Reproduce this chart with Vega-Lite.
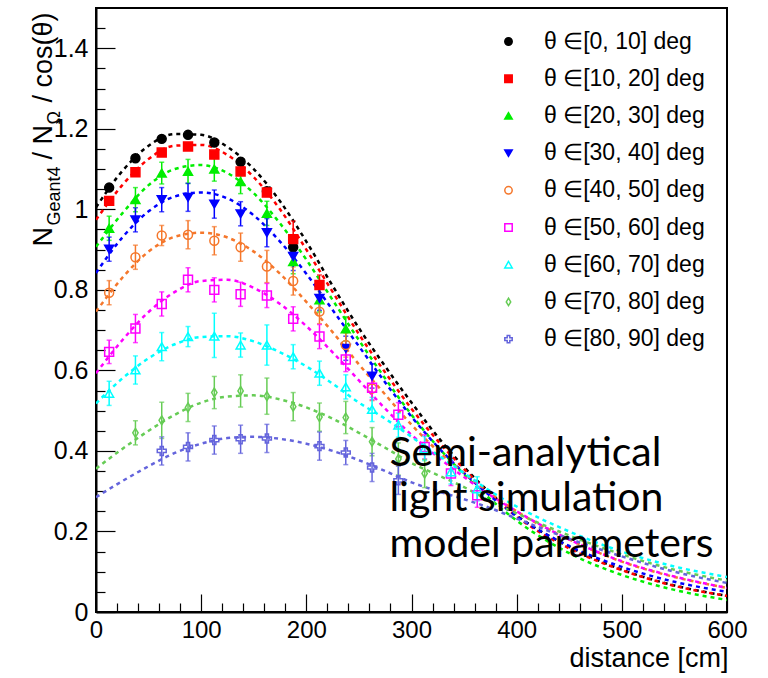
{
  "$schema": "https://vega.github.io/schema/vega-lite/v6.json",
  "width": 631,
  "height": 604,
  "autosize": "none",
  "padding": {"left": 96, "top": 8, "right": 41, "bottom": 66},
  "background": "white",
  "config": {
    "view": {"stroke": "black", "strokeWidth": 2},
    "axis": {"grid": false, "domainColor": "black", "domainWidth": 2, "tickColor": "black", "tickWidth": 1.2, "labelColor": "black", "titleColor": "black", "labelFont": "Liberation Sans", "titleFont": "Liberation Sans", "titleFontWeight": "normal", "labelFlush": false, "labelOverlap": false}
  },
  "datasets": {
    "fit": [
      {"s":"θ ∈[0, 10] deg","x":0,"y":1.005},{"s":"θ ∈[0, 10] deg","x":25,"y":1.095},{"s":"θ ∈[0, 10] deg","x":50,"y":1.158},{"s":"θ ∈[0, 10] deg","x":75,"y":1.187},{"s":"θ ∈[0, 10] deg","x":100,"y":1.185},{"s":"θ ∈[0, 10] deg","x":125,"y":1.155},{"s":"θ ∈[0, 10] deg","x":150,"y":1.1},{"s":"θ ∈[0, 10] deg","x":175,"y":1.02},{"s":"θ ∈[0, 10] deg","x":200,"y":0.92},{"s":"θ ∈[0, 10] deg","x":225,"y":0.81},{"s":"θ ∈[0, 10] deg","x":250,"y":0.705},{"s":"θ ∈[0, 10] deg","x":275,"y":0.61},{"s":"θ ∈[0, 10] deg","x":300,"y":0.52},{"s":"θ ∈[0, 10] deg","x":325,"y":0.435},{"s":"θ ∈[0, 10] deg","x":350,"y":0.36},{"s":"θ ∈[0, 10] deg","x":375,"y":0.295},{"s":"θ ∈[0, 10] deg","x":400,"y":0.24},{"s":"θ ∈[0, 10] deg","x":450,"y":0.162},{"s":"θ ∈[0, 10] deg","x":500,"y":0.105},{"s":"θ ∈[0, 10] deg","x":550,"y":0.066},{"s":"θ ∈[0, 10] deg","x":600,"y":0.04},
      {"s":"θ ∈[10, 20] deg","x":0,"y":0.974},{"s":"θ ∈[10, 20] deg","x":25,"y":1.06},{"s":"θ ∈[10, 20] deg","x":50,"y":1.125},{"s":"θ ∈[10, 20] deg","x":75,"y":1.158},{"s":"θ ∈[10, 20] deg","x":100,"y":1.16},{"s":"θ ∈[10, 20] deg","x":125,"y":1.135},{"s":"θ ∈[10, 20] deg","x":150,"y":1.08},{"s":"θ ∈[10, 20] deg","x":175,"y":1.0},{"s":"θ ∈[10, 20] deg","x":200,"y":0.9},{"s":"θ ∈[10, 20] deg","x":225,"y":0.795},{"s":"θ ∈[10, 20] deg","x":250,"y":0.69},{"s":"θ ∈[10, 20] deg","x":275,"y":0.595},{"s":"θ ∈[10, 20] deg","x":300,"y":0.505},{"s":"θ ∈[10, 20] deg","x":325,"y":0.425},{"s":"θ ∈[10, 20] deg","x":350,"y":0.355},{"s":"θ ∈[10, 20] deg","x":375,"y":0.292},{"s":"θ ∈[10, 20] deg","x":400,"y":0.237},{"s":"θ ∈[10, 20] deg","x":450,"y":0.158},{"s":"θ ∈[10, 20] deg","x":500,"y":0.104},{"s":"θ ∈[10, 20] deg","x":550,"y":0.065},{"s":"θ ∈[10, 20] deg","x":600,"y":0.04},
      {"s":"θ ∈[20, 30] deg","x":0,"y":0.907},{"s":"θ ∈[20, 30] deg","x":25,"y":0.99},{"s":"θ ∈[20, 30] deg","x":50,"y":1.06},{"s":"θ ∈[20, 30] deg","x":75,"y":1.1},{"s":"θ ∈[20, 30] deg","x":100,"y":1.11},{"s":"θ ∈[20, 30] deg","x":125,"y":1.09},{"s":"θ ∈[20, 30] deg","x":150,"y":1.04},{"s":"θ ∈[20, 30] deg","x":175,"y":0.965},{"s":"θ ∈[20, 30] deg","x":200,"y":0.875},{"s":"θ ∈[20, 30] deg","x":225,"y":0.775},{"s":"θ ∈[20, 30] deg","x":250,"y":0.675},{"s":"θ ∈[20, 30] deg","x":275,"y":0.58},{"s":"θ ∈[20, 30] deg","x":300,"y":0.49},{"s":"θ ∈[20, 30] deg","x":325,"y":0.41},{"s":"θ ∈[20, 30] deg","x":350,"y":0.342},{"s":"θ ∈[20, 30] deg","x":375,"y":0.28},{"s":"θ ∈[20, 30] deg","x":400,"y":0.227},{"s":"θ ∈[20, 30] deg","x":450,"y":0.146},{"s":"θ ∈[20, 30] deg","x":500,"y":0.092},{"s":"θ ∈[20, 30] deg","x":550,"y":0.055},{"s":"θ ∈[20, 30] deg","x":600,"y":0.03},
      {"s":"θ ∈[30, 40] deg","x":0,"y":0.842},{"s":"θ ∈[30, 40] deg","x":25,"y":0.93},{"s":"θ ∈[30, 40] deg","x":50,"y":0.995},{"s":"θ ∈[30, 40] deg","x":75,"y":1.032},{"s":"θ ∈[30, 40] deg","x":100,"y":1.042},{"s":"θ ∈[30, 40] deg","x":125,"y":1.027},{"s":"θ ∈[30, 40] deg","x":150,"y":0.985},{"s":"θ ∈[30, 40] deg","x":175,"y":0.92},{"s":"θ ∈[30, 40] deg","x":200,"y":0.84},{"s":"θ ∈[30, 40] deg","x":225,"y":0.75},{"s":"θ ∈[30, 40] deg","x":250,"y":0.66},{"s":"θ ∈[30, 40] deg","x":275,"y":0.57},{"s":"θ ∈[30, 40] deg","x":300,"y":0.485},{"s":"θ ∈[30, 40] deg","x":325,"y":0.41},{"s":"θ ∈[30, 40] deg","x":350,"y":0.345},{"s":"θ ∈[30, 40] deg","x":375,"y":0.288},{"s":"θ ∈[30, 40] deg","x":400,"y":0.238},{"s":"θ ∈[30, 40] deg","x":450,"y":0.164},{"s":"θ ∈[30, 40] deg","x":500,"y":0.112},{"s":"θ ∈[30, 40] deg","x":550,"y":0.075},{"s":"θ ∈[30, 40] deg","x":600,"y":0.05},
      {"s":"θ ∈[40, 50] deg","x":0,"y":0.746},{"s":"θ ∈[40, 50] deg","x":25,"y":0.83},{"s":"θ ∈[40, 50] deg","x":50,"y":0.895},{"s":"θ ∈[40, 50] deg","x":75,"y":0.932},{"s":"θ ∈[40, 50] deg","x":100,"y":0.942},{"s":"θ ∈[40, 50] deg","x":125,"y":0.93},{"s":"θ ∈[40, 50] deg","x":150,"y":0.895},{"s":"θ ∈[40, 50] deg","x":175,"y":0.84},{"s":"θ ∈[40, 50] deg","x":200,"y":0.77},{"s":"θ ∈[40, 50] deg","x":225,"y":0.695},{"s":"θ ∈[40, 50] deg","x":250,"y":0.615},{"s":"θ ∈[40, 50] deg","x":275,"y":0.54},{"s":"θ ∈[40, 50] deg","x":300,"y":0.465},{"s":"θ ∈[40, 50] deg","x":325,"y":0.4},{"s":"θ ∈[40, 50] deg","x":350,"y":0.345},{"s":"θ ∈[40, 50] deg","x":375,"y":0.295},{"s":"θ ∈[40, 50] deg","x":400,"y":0.25},{"s":"θ ∈[40, 50] deg","x":450,"y":0.18},{"s":"θ ∈[40, 50] deg","x":500,"y":0.125},{"s":"θ ∈[40, 50] deg","x":550,"y":0.087},{"s":"θ ∈[40, 50] deg","x":600,"y":0.06},
      {"s":"θ ∈[50, 60] deg","x":0,"y":0.593},{"s":"θ ∈[50, 60] deg","x":25,"y":0.675},{"s":"θ ∈[50, 60] deg","x":50,"y":0.745},{"s":"θ ∈[50, 60] deg","x":75,"y":0.795},{"s":"θ ∈[50, 60] deg","x":100,"y":0.822},{"s":"θ ∈[50, 60] deg","x":125,"y":0.825},{"s":"θ ∈[50, 60] deg","x":150,"y":0.805},{"s":"θ ∈[50, 60] deg","x":175,"y":0.765},{"s":"θ ∈[50, 60] deg","x":200,"y":0.71},{"s":"θ ∈[50, 60] deg","x":225,"y":0.645},{"s":"θ ∈[50, 60] deg","x":250,"y":0.575},{"s":"θ ∈[50, 60] deg","x":275,"y":0.505},{"s":"θ ∈[50, 60] deg","x":300,"y":0.44},{"s":"θ ∈[50, 60] deg","x":325,"y":0.385},{"s":"θ ∈[50, 60] deg","x":350,"y":0.335},{"s":"θ ∈[50, 60] deg","x":375,"y":0.29},{"s":"θ ∈[50, 60] deg","x":400,"y":0.25},{"s":"θ ∈[50, 60] deg","x":450,"y":0.18},{"s":"θ ∈[50, 60] deg","x":500,"y":0.126},{"s":"θ ∈[50, 60] deg","x":550,"y":0.088},{"s":"θ ∈[50, 60] deg","x":600,"y":0.06},
      {"s":"θ ∈[60, 70] deg","x":0,"y":0.518},{"s":"θ ∈[60, 70] deg","x":25,"y":0.58},{"s":"θ ∈[60, 70] deg","x":50,"y":0.63},{"s":"θ ∈[60, 70] deg","x":75,"y":0.665},{"s":"θ ∈[60, 70] deg","x":100,"y":0.683},{"s":"θ ∈[60, 70] deg","x":125,"y":0.685},{"s":"θ ∈[60, 70] deg","x":150,"y":0.672},{"s":"θ ∈[60, 70] deg","x":175,"y":0.645},{"s":"θ ∈[60, 70] deg","x":200,"y":0.61},{"s":"θ ∈[60, 70] deg","x":225,"y":0.567},{"s":"θ ∈[60, 70] deg","x":250,"y":0.52},{"s":"θ ∈[60, 70] deg","x":275,"y":0.48},{"s":"θ ∈[60, 70] deg","x":300,"y":0.435},{"s":"θ ∈[60, 70] deg","x":325,"y":0.39},{"s":"θ ∈[60, 70] deg","x":350,"y":0.345},{"s":"θ ∈[60, 70] deg","x":375,"y":0.3},{"s":"θ ∈[60, 70] deg","x":400,"y":0.262},{"s":"θ ∈[60, 70] deg","x":450,"y":0.2},{"s":"θ ∈[60, 70] deg","x":500,"y":0.15},{"s":"θ ∈[60, 70] deg","x":550,"y":0.113},{"s":"θ ∈[60, 70] deg","x":600,"y":0.087},
      {"s":"θ ∈[70, 80] deg","x":0,"y":0.356},{"s":"θ ∈[70, 80] deg","x":25,"y":0.405},{"s":"θ ∈[70, 80] deg","x":50,"y":0.45},{"s":"θ ∈[70, 80] deg","x":75,"y":0.49},{"s":"θ ∈[70, 80] deg","x":100,"y":0.52},{"s":"θ ∈[70, 80] deg","x":125,"y":0.535},{"s":"θ ∈[70, 80] deg","x":150,"y":0.538},{"s":"θ ∈[70, 80] deg","x":175,"y":0.528},{"s":"θ ∈[70, 80] deg","x":200,"y":0.508},{"s":"θ ∈[70, 80] deg","x":225,"y":0.48},{"s":"θ ∈[70, 80] deg","x":250,"y":0.445},{"s":"θ ∈[70, 80] deg","x":275,"y":0.408},{"s":"θ ∈[70, 80] deg","x":300,"y":0.37},{"s":"θ ∈[70, 80] deg","x":325,"y":0.34},{"s":"θ ∈[70, 80] deg","x":350,"y":0.31},{"s":"θ ∈[70, 80] deg","x":375,"y":0.275},{"s":"θ ∈[70, 80] deg","x":400,"y":0.245},{"s":"θ ∈[70, 80] deg","x":450,"y":0.19},{"s":"θ ∈[70, 80] deg","x":500,"y":0.143},{"s":"θ ∈[70, 80] deg","x":550,"y":0.105},{"s":"θ ∈[70, 80] deg","x":600,"y":0.078},
      {"s":"θ ∈[80, 90] deg","x":0,"y":0.285},{"s":"θ ∈[80, 90] deg","x":25,"y":0.325},{"s":"θ ∈[80, 90] deg","x":50,"y":0.362},{"s":"θ ∈[80, 90] deg","x":75,"y":0.395},{"s":"θ ∈[80, 90] deg","x":100,"y":0.418},{"s":"θ ∈[80, 90] deg","x":125,"y":0.432},{"s":"θ ∈[80, 90] deg","x":150,"y":0.435},{"s":"θ ∈[80, 90] deg","x":175,"y":0.43},{"s":"θ ∈[80, 90] deg","x":200,"y":0.418},{"s":"θ ∈[80, 90] deg","x":225,"y":0.4},{"s":"θ ∈[80, 90] deg","x":250,"y":0.377},{"s":"θ ∈[80, 90] deg","x":275,"y":0.35},{"s":"θ ∈[80, 90] deg","x":300,"y":0.322},{"s":"θ ∈[80, 90] deg","x":325,"y":0.3},{"s":"θ ∈[80, 90] deg","x":350,"y":0.28},{"s":"θ ∈[80, 90] deg","x":375,"y":0.258},{"s":"θ ∈[80, 90] deg","x":400,"y":0.232},{"s":"θ ∈[80, 90] deg","x":450,"y":0.182},{"s":"θ ∈[80, 90] deg","x":500,"y":0.138},{"s":"θ ∈[80, 90] deg","x":550,"y":0.1},{"s":"θ ∈[80, 90] deg","x":600,"y":0.072}
    ],
    "pts": [
      {"s":"θ ∈[0, 10] deg","x":12.5,"y":1.054,"lo":1.046,"hi":1.062},{"s":"θ ∈[0, 10] deg","x":37.5,"y":1.127,"lo":1.119,"hi":1.135},{"s":"θ ∈[0, 10] deg","x":62.5,"y":1.175,"lo":1.167,"hi":1.183},{"s":"θ ∈[0, 10] deg","x":87.5,"y":1.185,"lo":1.177,"hi":1.193},{"s":"θ ∈[0, 10] deg","x":112.5,"y":1.166,"lo":1.158,"hi":1.174},{"s":"θ ∈[0, 10] deg","x":137.5,"y":1.118,"lo":1.11,"hi":1.126},{"s":"θ ∈[0, 10] deg","x":162.5,"y":1.045,"lo":1.037,"hi":1.053},{"s":"θ ∈[0, 10] deg","x":187.5,"y":0.906,"lo":0.896,"hi":0.916},
      {"s":"θ ∈[10, 20] deg","x":12.5,"y":1.021,"lo":1.013,"hi":1.029},{"s":"θ ∈[10, 20] deg","x":37.5,"y":1.092,"lo":1.084,"hi":1.1},{"s":"θ ∈[10, 20] deg","x":62.5,"y":1.141,"lo":1.133,"hi":1.149},{"s":"θ ∈[10, 20] deg","x":87.5,"y":1.156,"lo":1.148,"hi":1.164},{"s":"θ ∈[10, 20] deg","x":112.5,"y":1.136,"lo":1.128,"hi":1.144},{"s":"θ ∈[10, 20] deg","x":137.5,"y":1.094,"lo":1.086,"hi":1.102},{"s":"θ ∈[10, 20] deg","x":162.5,"y":1.042,"lo":1.032,"hi":1.052},{"s":"θ ∈[10, 20] deg","x":187.5,"y":0.926,"lo":0.881,"hi":0.971},{"s":"θ ∈[10, 20] deg","x":212.5,"y":0.812,"lo":0.787,"hi":0.837},
      {"s":"θ ∈[20, 30] deg","x":12.5,"y":0.953,"lo":0.923,"hi":0.983},{"s":"θ ∈[20, 30] deg","x":37.5,"y":1.024,"lo":0.994,"hi":1.054},{"s":"θ ∈[20, 30] deg","x":62.5,"y":1.09,"lo":1.063,"hi":1.117},{"s":"θ ∈[20, 30] deg","x":87.5,"y":1.094,"lo":1.064,"hi":1.124},{"s":"θ ∈[20, 30] deg","x":112.5,"y":1.1,"lo":1.07,"hi":1.13},{"s":"θ ∈[20, 30] deg","x":137.5,"y":1.069,"lo":1.039,"hi":1.099},{"s":"θ ∈[20, 30] deg","x":162.5,"y":0.99,"lo":0.96,"hi":1.02},{"s":"θ ∈[20, 30] deg","x":187.5,"y":0.87,"lo":0.84,"hi":0.9},{"s":"θ ∈[20, 30] deg","x":212.5,"y":0.775,"lo":0.745,"hi":0.805},{"s":"θ ∈[20, 30] deg","x":237.5,"y":0.703,"lo":0.673,"hi":0.733},
      {"s":"θ ∈[30, 40] deg","x":12.5,"y":0.901,"lo":0.871,"hi":0.931},{"s":"θ ∈[30, 40] deg","x":37.5,"y":0.974,"lo":0.944,"hi":1.004},{"s":"θ ∈[30, 40] deg","x":62.5,"y":1.024,"lo":0.994,"hi":1.054},{"s":"θ ∈[30, 40] deg","x":87.5,"y":1.03,"lo":0.995,"hi":1.065},{"s":"θ ∈[30, 40] deg","x":112.5,"y":1.013,"lo":0.978,"hi":1.048},{"s":"θ ∈[30, 40] deg","x":137.5,"y":0.989,"lo":0.959,"hi":1.019},{"s":"θ ∈[30, 40] deg","x":162.5,"y":0.942,"lo":0.907,"hi":0.977},{"s":"θ ∈[30, 40] deg","x":187.5,"y":0.883,"lo":0.848,"hi":0.918},{"s":"θ ∈[30, 40] deg","x":212.5,"y":0.779,"lo":0.749,"hi":0.809},{"s":"θ ∈[30, 40] deg","x":237.5,"y":0.655,"lo":0.625,"hi":0.685},{"s":"θ ∈[30, 40] deg","x":262.5,"y":0.586,"lo":0.556,"hi":0.616},
      {"s":"θ ∈[40, 50] deg","x":12.5,"y":0.793,"lo":0.763,"hi":0.823},{"s":"θ ∈[40, 50] deg","x":37.5,"y":0.881,"lo":0.851,"hi":0.911},{"s":"θ ∈[40, 50] deg","x":62.5,"y":0.935,"lo":0.91,"hi":0.96},{"s":"θ ∈[40, 50] deg","x":87.5,"y":0.937,"lo":0.902,"hi":0.972},{"s":"θ ∈[40, 50] deg","x":112.5,"y":0.922,"lo":0.887,"hi":0.957},{"s":"θ ∈[40, 50] deg","x":137.5,"y":0.906,"lo":0.871,"hi":0.941},{"s":"θ ∈[40, 50] deg","x":162.5,"y":0.858,"lo":0.818,"hi":0.898},{"s":"θ ∈[40, 50] deg","x":187.5,"y":0.822,"lo":0.787,"hi":0.857},{"s":"θ ∈[40, 50] deg","x":212.5,"y":0.746,"lo":0.716,"hi":0.776},{"s":"θ ∈[40, 50] deg","x":237.5,"y":0.663,"lo":0.633,"hi":0.693},{"s":"θ ∈[40, 50] deg","x":262.5,"y":0.555,"lo":0.525,"hi":0.585},
      {"s":"θ ∈[50, 60] deg","x":12.5,"y":0.646,"lo":0.617,"hi":0.675},{"s":"θ ∈[50, 60] deg","x":37.5,"y":0.704,"lo":0.669,"hi":0.739},{"s":"θ ∈[50, 60] deg","x":62.5,"y":0.765,"lo":0.735,"hi":0.795},{"s":"θ ∈[50, 60] deg","x":87.5,"y":0.825,"lo":0.795,"hi":0.855},{"s":"θ ∈[50, 60] deg","x":112.5,"y":0.8,"lo":0.77,"hi":0.83},{"s":"θ ∈[50, 60] deg","x":137.5,"y":0.789,"lo":0.759,"hi":0.819},{"s":"θ ∈[50, 60] deg","x":162.5,"y":0.786,"lo":0.756,"hi":0.816},{"s":"θ ∈[50, 60] deg","x":187.5,"y":0.728,"lo":0.698,"hi":0.758},{"s":"θ ∈[50, 60] deg","x":212.5,"y":0.684,"lo":0.654,"hi":0.714},{"s":"θ ∈[50, 60] deg","x":237.5,"y":0.627,"lo":0.597,"hi":0.657},{"s":"θ ∈[50, 60] deg","x":262.5,"y":0.557,"lo":0.527,"hi":0.587},{"s":"θ ∈[50, 60] deg","x":287.5,"y":0.49,"lo":0.46,"hi":0.52},{"s":"θ ∈[50, 60] deg","x":312.5,"y":0.41,"lo":0.38,"hi":0.44},{"s":"θ ∈[50, 60] deg","x":337.5,"y":0.344,"lo":0.314,"hi":0.374},{"s":"θ ∈[50, 60] deg","x":362.5,"y":0.29,"lo":0.26,"hi":0.32},
      {"s":"θ ∈[60, 70] deg","x":12.5,"y":0.543,"lo":0.513,"hi":0.573},{"s":"θ ∈[60, 70] deg","x":37.5,"y":0.601,"lo":0.566,"hi":0.636},{"s":"θ ∈[60, 70] deg","x":62.5,"y":0.659,"lo":0.624,"hi":0.694},{"s":"θ ∈[60, 70] deg","x":87.5,"y":0.684,"lo":0.659,"hi":0.709},{"s":"θ ∈[60, 70] deg","x":112.5,"y":0.685,"lo":0.632,"hi":0.742},{"s":"θ ∈[60, 70] deg","x":137.5,"y":0.663,"lo":0.633,"hi":0.693},{"s":"θ ∈[60, 70] deg","x":162.5,"y":0.663,"lo":0.613,"hi":0.713},{"s":"θ ∈[60, 70] deg","x":187.5,"y":0.634,"lo":0.604,"hi":0.664},{"s":"θ ∈[60, 70] deg","x":212.5,"y":0.593,"lo":0.563,"hi":0.623},{"s":"θ ∈[60, 70] deg","x":237.5,"y":0.559,"lo":0.529,"hi":0.589},{"s":"θ ∈[60, 70] deg","x":262.5,"y":0.503,"lo":0.473,"hi":0.533},{"s":"θ ∈[60, 70] deg","x":287.5,"y":0.464,"lo":0.434,"hi":0.494},{"s":"θ ∈[60, 70] deg","x":312.5,"y":0.406,"lo":0.376,"hi":0.436},{"s":"θ ∈[60, 70] deg","x":337.5,"y":0.348,"lo":0.318,"hi":0.378},{"s":"θ ∈[60, 70] deg","x":362.5,"y":0.306,"lo":0.276,"hi":0.336},
      {"s":"θ ∈[70, 80] deg","x":37.5,"y":0.445,"lo":0.415,"hi":0.475},{"s":"θ ∈[70, 80] deg","x":62.5,"y":0.476,"lo":0.431,"hi":0.521},{"s":"θ ∈[70, 80] deg","x":87.5,"y":0.508,"lo":0.473,"hi":0.543},{"s":"θ ∈[70, 80] deg","x":112.5,"y":0.545,"lo":0.505,"hi":0.585},{"s":"θ ∈[70, 80] deg","x":137.5,"y":0.549,"lo":0.509,"hi":0.589},{"s":"θ ∈[70, 80] deg","x":162.5,"y":0.536,"lo":0.491,"hi":0.581},{"s":"θ ∈[70, 80] deg","x":187.5,"y":0.51,"lo":0.475,"hi":0.545},{"s":"θ ∈[70, 80] deg","x":212.5,"y":0.484,"lo":0.449,"hi":0.519},{"s":"θ ∈[70, 80] deg","x":237.5,"y":0.483,"lo":0.443,"hi":0.523},{"s":"θ ∈[70, 80] deg","x":262.5,"y":0.423,"lo":0.388,"hi":0.458},{"s":"θ ∈[70, 80] deg","x":287.5,"y":0.38,"lo":0.34,"hi":0.42},{"s":"θ ∈[70, 80] deg","x":312.5,"y":0.344,"lo":0.309,"hi":0.379},
      {"s":"θ ∈[80, 90] deg","x":62.5,"y":0.4,"lo":0.365,"hi":0.435},{"s":"θ ∈[80, 90] deg","x":87.5,"y":0.41,"lo":0.375,"hi":0.445},{"s":"θ ∈[80, 90] deg","x":112.5,"y":0.427,"lo":0.392,"hi":0.462},{"s":"θ ∈[80, 90] deg","x":137.5,"y":0.429,"lo":0.394,"hi":0.464},{"s":"θ ∈[80, 90] deg","x":162.5,"y":0.431,"lo":0.396,"hi":0.466},{"s":"θ ∈[80, 90] deg","x":212.5,"y":0.412,"lo":0.377,"hi":0.447},{"s":"θ ∈[80, 90] deg","x":237.5,"y":0.396,"lo":0.366,"hi":0.426},{"s":"θ ∈[80, 90] deg","x":262.5,"y":0.359,"lo":0.324,"hi":0.394},{"s":"θ ∈[80, 90] deg","x":287.5,"y":0.327,"lo":0.292,"hi":0.362}
    ]
  },
  "resolve": {"axis": {"x": "independent", "y": "independent"}},
  "layer": [
    {
      "data": {"name": "fit"},
      "mark": {"type": "line", "interpolate": "monotone", "strokeDash": [4, 4], "strokeWidth": 2.5, "clip": true},
      "encoding": {
        "x": {"field": "x", "type": "quantitative", "scale": {"domain": [0, 600], "nice": false, "zero": false},
              "axis": {"orient": "bottom", "values": [0, 100, 200, 300, 400, 500, 600], "tickSize": -18, "labelPadding": 24, "labelFontSize": 24, "title": "distance [cm]", "titleFontSize": 27, "titleAnchor": "end", "titleAlign": "right", "titleX": 632, "titleY": 54, "titleBaseline": "alphabetic"}},
        "y": {"field": "y", "type": "quantitative", "scale": {"domain": [0, 1.5], "nice": false, "zero": false},
              "axis": {"orient": "left", "values": [0, 0.2, 0.4, 0.6, 0.8, 1, 1.2, 1.4], "format": "~g", "tickSize": -19, "labelPadding": 27, "labelFontSize": 25, "title": "N\u00a0\u00a0\u00a0\u00a0\u00a0\u00a0\u00a0\u00a0 / N\u00a0\u00a0 / cos(θ)", "titleFontSize": 27, "titleAngle": 270, "titleAlign": "right", "titleX": -45, "titleY": 4, "titleBaseline": "alphabetic"}},
        "color": {"field": "s", "type": "nominal", "legend": null,
                  "scale": {"range": ["#000000","#ff0000","#00ee00","#0000ff","#f5772b","#ff00ff","#00ffff","#66cc55","#6464dc"]}}
      }
    },
    {
      "data": {"name": "pts"},
      "mark": {"type": "errorbar", "ticks": true, "thickness": 1.5},
      "encoding": {
        "x": {"field": "x", "type": "quantitative", "axis": null},
        "y": {"field": "lo", "type": "quantitative", "axis": null},
        "y2": {"field": "hi"},
        "color": {"field": "s", "type": "nominal", "legend": null}
      }
    },
    {
      "data": {"name": "pts"},
      "mark": {"type": "point", "size": 80, "strokeWidth": 1.5, "opacity": 1},
      "encoding": {
        "x": {"field": "x", "type": "quantitative",
              "axis": {"orient": "bottom", "values": [20,40,60,80,120,140,160,180,220,240,260,280,320,340,360,380,420,440,460,480,520,540,560,580], "tickSize": -9, "labels": false, "domain": false, "title": null}},
        "y": {"field": "y", "type": "quantitative",
              "axis": {"orient": "left", "values": [0.05,0.1,0.15,0.25,0.3,0.35,0.45,0.5,0.55,0.65,0.7,0.75,0.85,0.9,0.95,1.05,1.1,1.15,1.25,1.3,1.35,1.45], "tickSize": -9, "labels": false, "domain": false, "title": "Geant4", "titleFontSize": 18, "titleAngle": 270, "titleAlign": "left", "titleX": -37, "titleY": 217, "titleBaseline": "alphabetic"}},
        "shape": {"field": "s", "type": "nominal",
                  "legend": {"title": null, "orient": "top-right", "offset": 22, "labelFontSize": 23, "labelFont": "Liberation Sans", "labelColor": "black", "symbolSize": 55, "symbolStrokeWidth": 1.5, "rowPadding": 13.2, "labelOffset": 24, "labelLimit": 300},
                  "scale": {"domain": ["θ ∈[0, 10] deg","θ ∈[10, 20] deg","θ ∈[20, 30] deg","θ ∈[30, 40] deg","θ ∈[40, 50] deg","θ ∈[50, 60] deg","θ ∈[60, 70] deg","θ ∈[70, 80] deg","θ ∈[80, 90] deg"],
                            "range": ["circle","square","triangle-up","triangle-down","circle","square","triangle-up","M0,-1L0.6,0L0,1L-0.6,0Z","M-0.35,-1L0.35,-1L0.35,-0.35L1,-0.35L1,0.35L0.35,0.35L0.35,1L-0.35,1L-0.35,0.35L-1,0.35L-1,-0.35L-0.35,-0.35Z"]}},
        "fill": {"field": "s", "type": "nominal",
                 "legend": {"title": null, "orient": "top-right", "offset": 22, "labelFontSize": 23, "labelFont": "Liberation Sans", "labelColor": "black", "symbolSize": 55, "symbolStrokeWidth": 1.5, "rowPadding": 13.2, "labelOffset": 24, "labelLimit": 300},
                 "scale": {"domain": ["θ ∈[0, 10] deg","θ ∈[10, 20] deg","θ ∈[20, 30] deg","θ ∈[30, 40] deg","θ ∈[40, 50] deg","θ ∈[50, 60] deg","θ ∈[60, 70] deg","θ ∈[70, 80] deg","θ ∈[80, 90] deg"],
                           "range": ["#000000","#ff0000","#00ee00","#0000ff","transparent","transparent","transparent","transparent","transparent"]}},
        "stroke": {"field": "s", "type": "nominal",
                   "legend": {"title": null, "orient": "top-right", "offset": 22, "labelFontSize": 23, "labelFont": "Liberation Sans", "labelColor": "black", "symbolSize": 55, "symbolStrokeWidth": 1.5, "rowPadding": 13.2, "labelOffset": 24, "labelLimit": 300},
                   "scale": {"domain": ["θ ∈[0, 10] deg","θ ∈[10, 20] deg","θ ∈[20, 30] deg","θ ∈[30, 40] deg","θ ∈[40, 50] deg","θ ∈[50, 60] deg","θ ∈[60, 70] deg","θ ∈[70, 80] deg","θ ∈[80, 90] deg"],
                             "range": ["#000000","#ff0000","#00ee00","#0000ff","#f5772b","#ff00ff","#00ffff","#66cc55","#6464dc"]}}
      }
    },
    {
      "data": {"values": [{}]},
      "mark": {"type": "text", "text": ["Semi-analytical", "light simulation", "model parameters"], "align": "left", "baseline": "top", "lineHeight": 45.5, "font": "Lato", "fontSize": 41, "color": "black"},
      "encoding": {
        "x": {"datum": 279, "type": "quantitative", "axis": null},
        "y": {"datum": 0.443, "type": "quantitative",
              "axis": {"orient": "left", "ticks": false, "labels": false, "domain": false, "title": "Ω", "titleFontSize": 18, "titleAngle": 270, "titleAlign": "left", "titleX": -37, "titleY": 116, "titleBaseline": "alphabetic"}}
      }
    }
  ]
}
